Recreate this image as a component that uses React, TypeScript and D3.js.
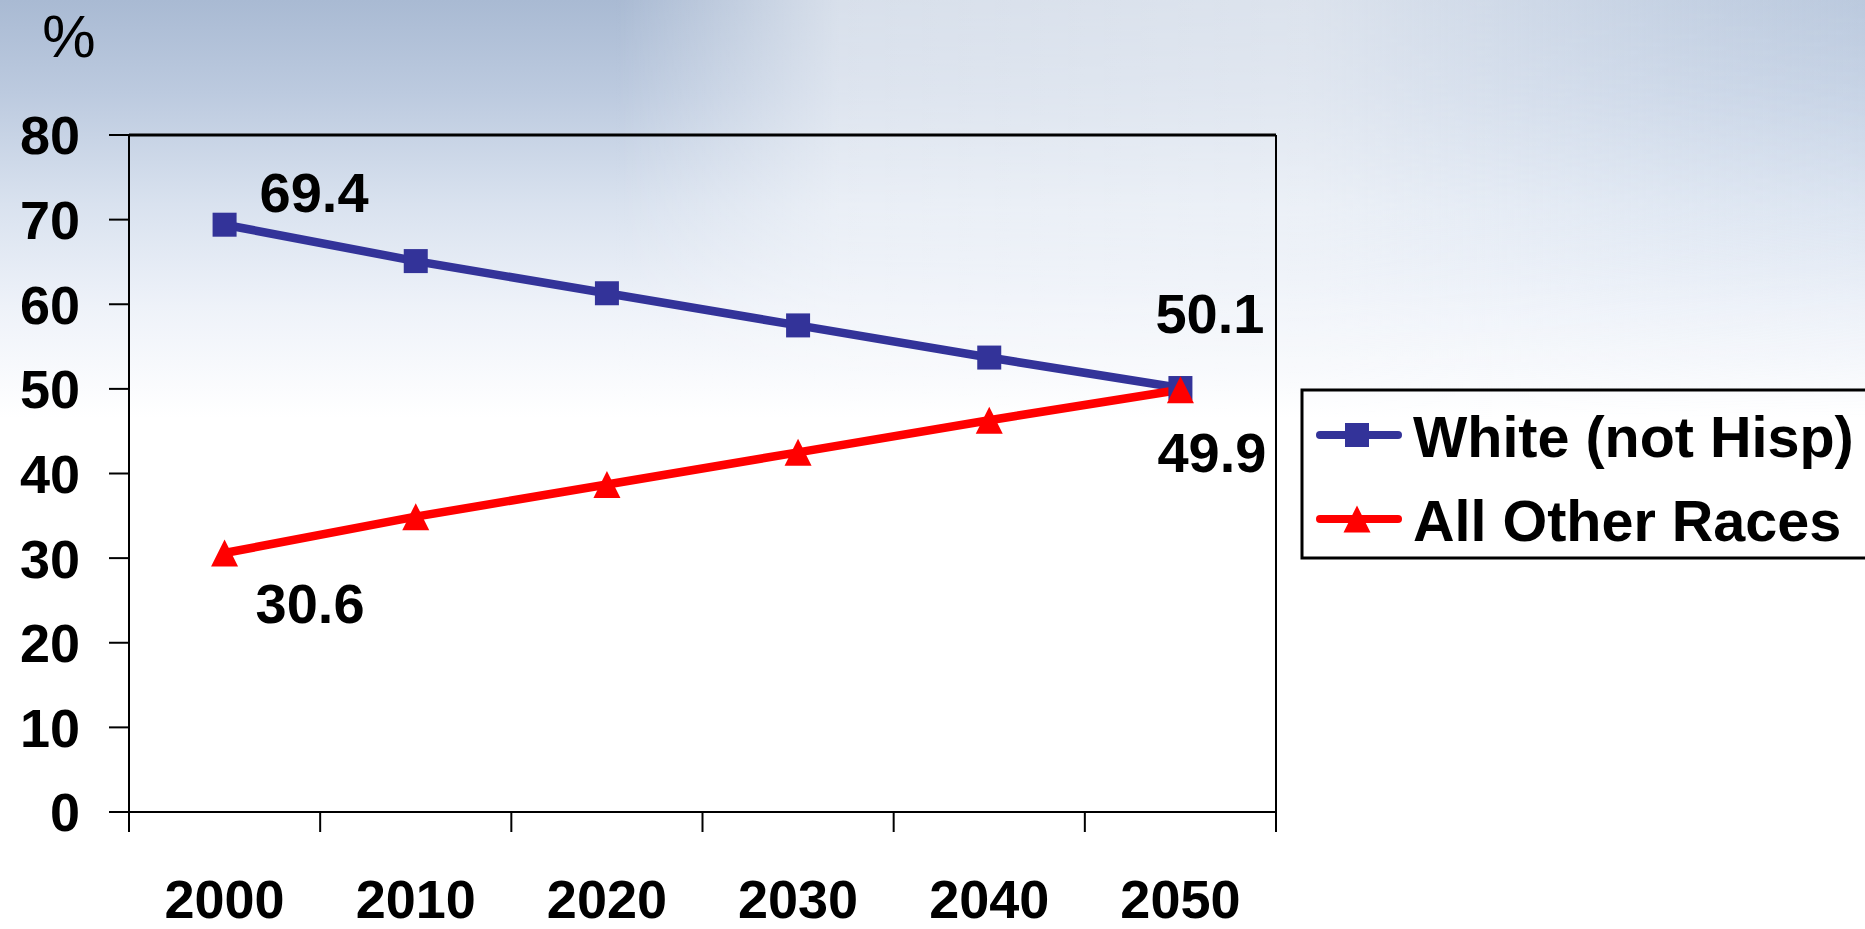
import React from "react";
import * as d3 from "d3";

// Share of the U.S. population, projected by decade
const years = ["2000", "2010", "2020", "2030", "2040", "2050"];
const whiteNotHisp = [69.4, 65.1, 61.3, 57.5, 53.7, 50.1];
const allOtherRaces = [30.6, 34.9, 38.7, 42.5, 46.3, 49.9];
const yTicks = [0, 10, 20, 30, 40, 50, 60, 70, 80];
const seriesNames = ["White (not Hisp)", "All Other Races"];

const W = 1865;
const H = 929;
const FONT = "'Liberation Sans', Arial, Helvetica, sans-serif";
const BLUE = "#333399";
const RED = "#ff0000";

const plot = { left: 129, right: 1276, top: 135, bottom: 812 };

export default function App() {
  const x = d3.scaleBand<string>().domain(years).range([plot.left, plot.right]);
  const y = d3.scaleLinear().domain([0, 80]).range([plot.bottom, plot.top]);
  const cx = (yr: string) => (x(yr) as number) + x.bandwidth() / 2;

  const line = d3
    .line<number>()
    .x((_, i) => cx(years[i]))
    .y((v) => y(v));

  const sq = 24;
  const th = 13.5;
  const triPath = (px: number, py: number) =>
    `M${px},${py - th} L${px + th},${py + th} L${px - th},${py + th} Z`;

  // value labels: first and last point of each series
  const last = years.length - 1;
  const valueLabels = [
    { yr: years[0], v: whiteNotHisp[0], dx: 35, dy: -13 },
    { yr: years[0], v: allOtherRaces[0], dx: 31, dy: 70 },
    { yr: years[last], v: whiteNotHisp[last], dx: -25, dy: -55 },
    { yr: years[last], v: allOtherRaces[last], dx: -23, dy: 82 },
  ];

  const xTickPositions = d3.range(years.length + 1).map((i) => plot.left + i * x.bandwidth());

  return (
    <svg
      width={W}
      height={H}
      viewBox={`0 0 ${W} ${H}`}
      style={{ position: "absolute", left: 0, top: 0, display: "block" }}
      fontFamily={FONT}
    >
      <defs>
        <linearGradient id="bgV" x1="0" y1="0" x2="0" y2="1">
          <stop offset="0" stopColor="#a9bad3" />
          <stop offset="0.1" stopColor="#bccadf" />
          <stop offset="0.22" stopColor="#d9e2ef" />
          <stop offset="0.33" stopColor="#eef2f9" />
          <stop offset="0.45" stopColor="#ffffff" />
          <stop offset="1" stopColor="#ffffff" />
        </linearGradient>
        <linearGradient id="bgH" x1="0" y1="0" x2="1" y2="0">
          <stop offset="0" stopColor="#ffffff" stopOpacity="0" />
          <stop offset="0.33" stopColor="#ffffff" stopOpacity="0" />
          <stop offset="0.45" stopColor="#ffffff" stopOpacity="0.55" />
          <stop offset="0.7" stopColor="#ffffff" stopOpacity="0.6" />
          <stop offset="0.85" stopColor="#f4f8fd" stopOpacity="0.45" />
          <stop offset="1" stopColor="#e6eef8" stopOpacity="0.3" />
        </linearGradient>
        <linearGradient id="fadeDown" x1="0" y1="0" x2="0" y2="1">
          <stop offset="0" stopColor="#fff" stopOpacity="1" />
          <stop offset="0.5" stopColor="#fff" stopOpacity="0.8" />
          <stop offset="1" stopColor="#fff" stopOpacity="0" />
        </linearGradient>
        <mask id="topMask">
          <rect x={0} y={0} width={W} height={420} fill="url(#fadeDown)" />
        </mask>
      </defs>

      {/* backdrop */}
      <rect x={0} y={0} width={W} height={H} fill="url(#bgV)" />
      <g mask="url(#topMask)">
        <rect x={0} y={0} width={W} height={420} fill="url(#bgH)" />
      </g>

      {/* plot frame (top and right) */}
      <line x1={plot.left} x2={plot.right} y1={plot.top} y2={plot.top} stroke="#000" strokeWidth={3} />
      <line x1={plot.right} x2={plot.right} y1={plot.top} y2={plot.bottom} stroke="#000" strokeWidth={2} />

      {/* y axis */}
      <line x1={plot.left} x2={plot.left} y1={plot.top} y2={plot.bottom + 20} stroke="#000" strokeWidth={2} />
      {yTicks.map((t) => (
        <g key={t}>
          <line x1={plot.left - 20} x2={plot.left} y1={y(t)} y2={y(t)} stroke="#000" strokeWidth={2} />
          <text
            x={80}
            y={y(t)}
            dy="0.36em"
            textAnchor="end"
            fontSize={54}
            fontWeight="bold"
            fill="#000"
          >
            {t}
          </text>
        </g>
      ))}
      <text x={69} y={57} textAnchor="middle" fontSize={60} fill="#000">
        %
      </text>

      {/* x axis */}
      <line x1={plot.left - 20} x2={plot.right} y1={plot.bottom} y2={plot.bottom} stroke="#000" strokeWidth={2} />
      {xTickPositions.map((p, i) => (
        <line key={i} x1={p} x2={p} y1={plot.bottom} y2={plot.bottom + 20} stroke="#000" strokeWidth={2} />
      ))}
      {years.map((yr) => (
        <text key={yr} x={cx(yr)} y={918} textAnchor="middle" fontSize={54} fontWeight="bold" fill="#000">
          {yr}
        </text>
      ))}

      {/* series lines */}
      <path d={line(whiteNotHisp) ?? ""} fill="none" stroke={BLUE} strokeWidth={8.5} strokeLinejoin="round" />
      <path d={line(allOtherRaces) ?? ""} fill="none" stroke={RED} strokeWidth={8.5} strokeLinejoin="round" />

      {/* markers */}
      {whiteNotHisp.map((v, i) => (
        <rect
          key={"w" + i}
          x={cx(years[i]) - sq / 2}
          y={y(v) - sq / 2}
          width={sq}
          height={sq}
          fill={BLUE}
        />
      ))}
      {allOtherRaces.map((v, i) => (
        <path key={"o" + i} d={triPath(cx(years[i]), y(v))} fill={RED} />
      ))}

      {/* value labels */}
      {valueLabels.map((l, i) => (
        <text
          key={i}
          x={cx(l.yr) + l.dx}
          y={y(l.v) + l.dy}
          fontSize={56}
          fontWeight="bold"
          fill="#000"
        >
          {l.v.toFixed(1)}
        </text>
      ))}

      {/* legend */}
      <rect x={1302} y={390} width={620} height={168} fill="none" stroke="#000" strokeWidth={3} />
      <line x1={1320} x2={1398} y1={435} y2={435} stroke={BLUE} strokeWidth={8} strokeLinecap="round" />
      <rect x={1357 - sq / 2} y={435 - sq / 2} width={sq} height={sq} fill={BLUE} />
      <text x={1413} y={457} fontSize={57.5} fontWeight="bold" fill="#000">
        {seriesNames[0]}
      </text>
      <line x1={1320} x2={1398} y1={519} y2={519} stroke={RED} strokeWidth={8} strokeLinecap="round" />
      <path d={triPath(1357, 519)} fill={RED} />
      <text x={1413} y={541} fontSize={57.5} fontWeight="bold" fill="#000">
        {seriesNames[1]}
      </text>
    </svg>
  );
}
